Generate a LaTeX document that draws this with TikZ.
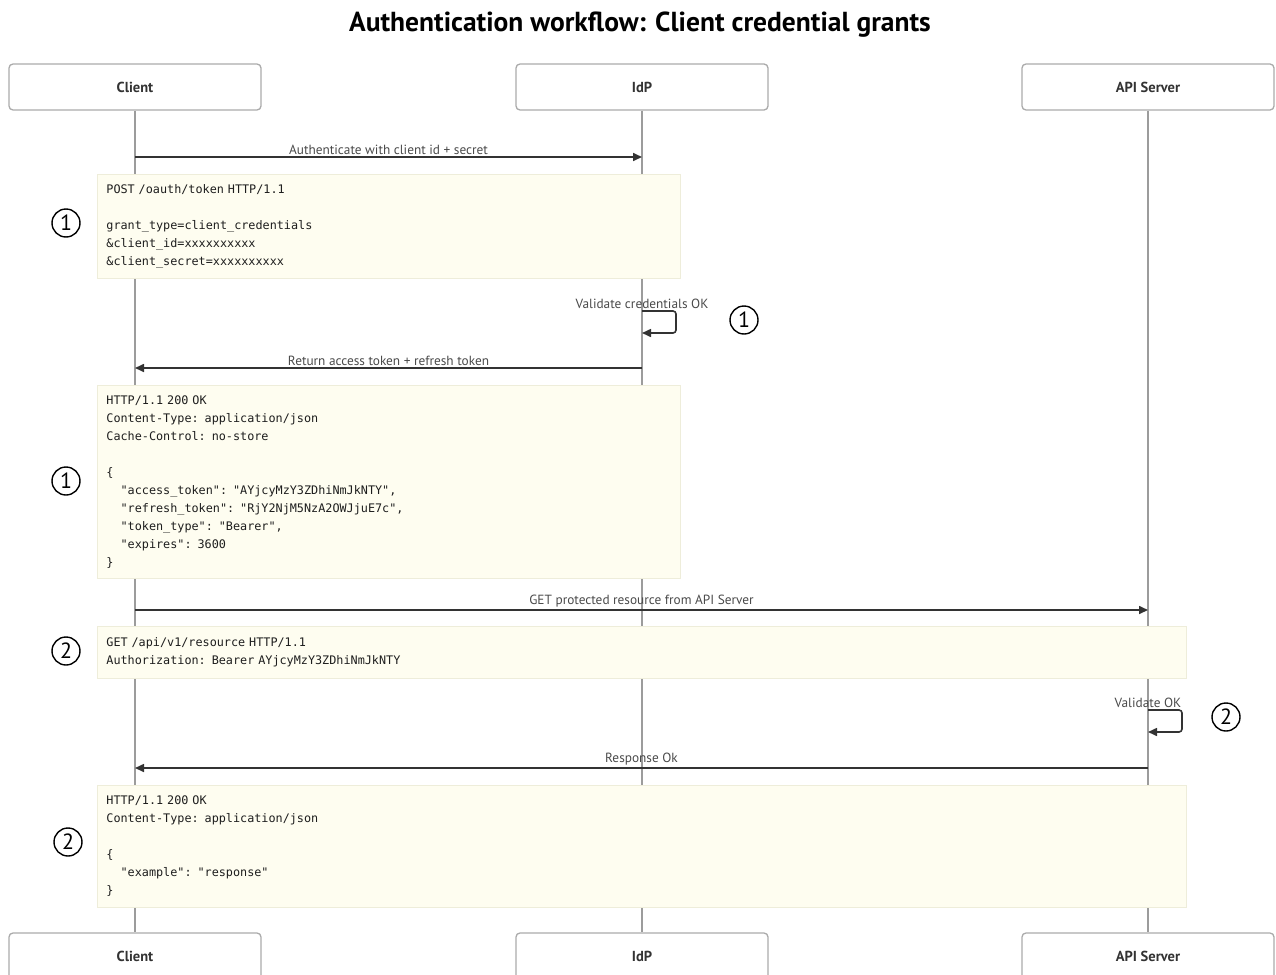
\documentclass[tikz,border=0pt]{standalone}
\usepackage{fontspec}
\setmainfont{PT Sans}
\setmonofont{DejaVu Sans Mono}[WordSpace={1,0,0}, PunctuationSpace=WordSpace]
\usepackage{xcolor}
\usetikzlibrary{positioning,calc,arrows.meta}

\definecolor{notefill}{HTML}{FEFDF0}
\definecolor{noteline}{HTML}{EEEDDA}
\definecolor{lifegray}{HTML}{9C9C9C}
\definecolor{boxgray}{HTML}{ABABAB}
\definecolor{msgdark}{HTML}{333333}
\definecolor{codedark}{HTML}{1E1E1E}
\definecolor{labelgray}{HTML}{4A4A4A}

\newcommand{\ind}{\phantom{xx}}

\tikzset{
  actor/.style={draw=boxgray, line width=1.3pt, rounded corners=4pt, fill=white,
    minimum width=252pt, minimum height=46pt, text=msgdark,
    font=\fontsize{14.5}{16}\selectfont\bfseries},
  life/.style={draw=lifegray, line width=1.2pt},
  msg/.style={draw=msgdark, line width=1.6pt, -{Triangle[length=9pt,width=8pt]}},
  lbl/.style={text=labelgray, font=\fontsize{13.3}{15}\selectfont, inner sep=2pt},
  note/.style={draw=noteline, fill=notefill, line width=0.8pt, anchor=north west,
    align=left, text=codedark, inner xsep=9pt,
    font=\ttfamily\fontsize{11.8}{18}\selectfont},
  badge/.style={circle, draw=black, line width=1.4pt, minimum size=28pt, inner sep=0pt,
    font=\fontsize{22}{22}\selectfont},
}

\begin{document}
\begin{tikzpicture}[x=1pt,y=-1pt]
  \useasboundingbox (0,0) rectangle (1276,974);

  \node[font=\fontsize{27.5}{30}\selectfont\bfseries, text=black] (ttl) at (640,25)
    {Authentication workflow: Client credential grants};

  % participants, top and bottom
  \node[actor] (client) at (135,87) {Client};
  \node[actor] (idp) at (642,87) {IdP};
  \node[actor] (api) at (1148,87) {API Server};
  \node[actor] (clientb) at (135,956) {Client};
  \node[actor] (idpb) at (642,956) {IdP};
  \node[actor] (apib) at (1148,956) {API Server};

  % lifelines
  \draw[life] (client) -- (clientb);
  \draw[life] (idp) -- (idpb);
  \draw[life] (api) -- (apib);

  % step 1: token request
  \coordinate (m1) at (0,157);
  \draw[msg] (client |- m1) -- node[above, lbl] {Authenticate with client id + secret} (idp |- m1);
  \node[note, text width=565pt, minimum height=104pt] (req1) at (97,174)
    {POST /oauth/token HTTP/1.1\\[18pt]
     grant\_type=client\_credentials\\
     \&client\_id=xxxxxxxxxx\\
     \&client\_secret=xxxxxxxxxx};
  \node[badge] (b1) at (66,223) {1};

  \coordinate (s1) at (0,311);
  \draw[msg, rounded corners=3pt] (idp |- s1) node[above, lbl] {Validate credentials OK}
    -- ++(34,0) -- ++(0,22) -- ++(-34,0);
  \node[badge] (b2) at (744,320) {1};

  \coordinate (m2) at (0,368);
  \draw[msg] (idp |- m2) -- node[above, lbl] {Return access token + refresh token} (client |- m2);
  \node[note, text width=565pt, minimum height=193pt] (res1) at (97,385)
    {HTTP/1.1 200 OK\\
     Content-Type: application/json\\
     Cache-Control: no-store\\[18pt]
     \{\\
     \ind"access\_token": "AYjcyMzY3ZDhiNmJkNTY",\\
     \ind"refresh\_token": "RjY2NjM5NzA2OWJjuE7c",\\
     \ind"token\_type": "Bearer",\\
     \ind"expires": 3600\\
     \}};
  \node[badge] (b3) at (66,481) {1};

  % step 2: protected resource
  \coordinate (m3) at (0,610);
  \draw[msg] (client |- m3) -- node[above, lbl] {GET protected resource from API Server} (api |- m3);
  \node[note, text width=1071pt, minimum height=52pt] (req2) at (97,626)
    {GET /api/v1/resource HTTP/1.1\\
     Authorization: Bearer AYjcyMzY3ZDhiNmJkNTY};
  \node[badge] (b4) at (66,651) {2};

  \coordinate (s2) at (0,710);
  \draw[msg, rounded corners=3pt] (api |- s2) node[above, lbl] {Validate OK}
    -- ++(34,0) -- ++(0,22) -- ++(-34,0);
  \node[badge] (b5) at (1226,717) {2};

  \coordinate (m4) at (0,768);
  \draw[msg] (api |- m4) -- node[above, lbl] {Response Ok} (client |- m4);
  \node[note, text width=1071pt, minimum height=122pt] (res2) at (97,785)
    {HTTP/1.1 200 OK\\
     Content-Type: application/json\\[18pt]
     \{\\
     \ind"example": "response"\\
     \}};
  \node[badge] (b6) at (68,842) {2};
\end{tikzpicture}
\end{document}
